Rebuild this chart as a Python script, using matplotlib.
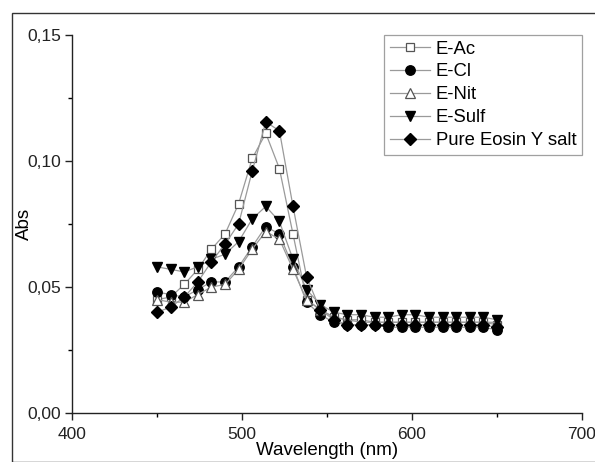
import matplotlib
matplotlib.use("Agg")
import matplotlib.pyplot as plt
from matplotlib.ticker import FuncFormatter, MultipleLocator
from matplotlib.patches import Rectangle

plt.rcParams['font.family'] = ['Liberation Sans', 'DejaVu Sans']

wavelength = [450, 458, 466, 474, 482, 490, 498, 506, 514, 522, 530, 538,
              546, 554, 562, 570, 578, 586, 594, 602, 610, 618, 626, 634, 642, 650]

e_ac = [0.045, 0.046, 0.051, 0.057, 0.065, 0.071, 0.083, 0.101, 0.111, 0.097, 0.071, 0.045,
        0.041, 0.038, 0.037, 0.037, 0.036, 0.036, 0.036, 0.036, 0.036, 0.036, 0.036, 0.036, 0.036, 0.035]
e_cl = [0.048, 0.047, 0.046, 0.049, 0.052, 0.052, 0.058, 0.066, 0.074, 0.071, 0.058, 0.044,
        0.039, 0.036, 0.035, 0.035, 0.035, 0.034, 0.034, 0.034, 0.034, 0.034, 0.034, 0.034, 0.034, 0.033]
e_nit = [0.045, 0.044, 0.044, 0.047, 0.050, 0.051, 0.057, 0.065, 0.072, 0.069, 0.057, 0.045,
         0.041, 0.038, 0.037, 0.036, 0.036, 0.036, 0.036, 0.036, 0.036, 0.036, 0.036, 0.036, 0.036, 0.036]
e_sulf = [0.058, 0.057, 0.056, 0.058, 0.061, 0.063, 0.068, 0.077, 0.082, 0.076, 0.061, 0.049,
          0.043, 0.040, 0.039, 0.039, 0.038, 0.038, 0.039, 0.039, 0.038, 0.038, 0.038, 0.038, 0.038, 0.037]
eosin = [0.040, 0.042, 0.046, 0.052, 0.060, 0.067, 0.075, 0.096, 0.1155, 0.112, 0.082, 0.054,
         0.041, 0.037, 0.035, 0.035, 0.035, 0.035, 0.035, 0.035, 0.035, 0.035, 0.035, 0.035, 0.035, 0.034]

labels = ["E-Ac", "E-Cl", "E-Nit", "E-Sulf", "Pure Eosin Y salt"]

fig = plt.figure(figsize=(5.95, 4.62), dpi=100)
# outer frame of the original picture
fig.patches.append(Rectangle((12/595, 0), 1.0, 1 - 13/462, transform=fig.transFigure,
                             fill=False, edgecolor='#333333', linewidth=1.0))
ax = fig.add_axes([72/595, 1 - 413/462, (582-72)/595, (413-35)/462])

line_kw = dict(color='#9a9a9a', linewidth=0.9)
ax.plot(wavelength, e_ac, marker='s', markersize=6.2, markerfacecolor='white',
        markeredgecolor='#555555', markeredgewidth=0.9, label=labels[0], **line_kw)
ax.plot(wavelength, e_cl, marker='o', markersize=6.8, markerfacecolor='black',
        markeredgecolor='black', label=labels[1], **line_kw)
ax.plot(wavelength, e_nit, marker='^', markersize=7.2, markerfacecolor='white',
        markeredgecolor='#555555', markeredgewidth=0.9, label=labels[2], **line_kw)
ax.plot(wavelength, e_sulf, marker='v', markersize=7.2, markerfacecolor='black',
        markeredgecolor='black', label=labels[3], **line_kw)
ax.plot(wavelength, eosin, marker='D', markersize=6.0, markerfacecolor='black',
        markeredgecolor='black', label=labels[4], **line_kw)

ax.set_xlim(400, 700)
ax.set_ylim(0, 0.15)
ax.xaxis.set_major_locator(MultipleLocator(100))
ax.xaxis.set_minor_locator(MultipleLocator(50))
ax.yaxis.set_major_locator(MultipleLocator(0.05))
ax.yaxis.set_minor_locator(MultipleLocator(0.025))
ax.yaxis.set_major_formatter(FuncFormatter(lambda v, p: f"{v:.2f}".replace('.', ',')))
ax.tick_params(which='major', direction='out', length=5, width=1, labelsize=12.5,
               colors='#222222')
ax.tick_params(axis='x', which='major', pad=5)
ax.tick_params(axis='y', which='major', pad=3)
ax.tick_params(which='minor', direction='out', length=3, width=1)
for s in ['top', 'right']:
    ax.spines[s].set_visible(False)
for s in ['left', 'bottom']:
    ax.spines[s].set_linewidth(1.0)
    ax.spines[s].set_color('#222222')

ax.set_xlabel("Wavelength (nm)", fontsize=13.5, labelpad=0)
ax.set_ylabel("Abs", fontsize=13.5)
ax.yaxis.set_label_coords(-0.076, 0.5)

leg = ax.legend(loc='upper right', bbox_to_anchor=(1.0, 1.0), fontsize=13.3, frameon=True,
                fancybox=False, edgecolor='#888888', handlelength=2.2, handletextpad=0.3,
                labelspacing=0.32, borderpad=0.3, borderaxespad=0.0)
leg.get_frame().set_linewidth(0.9)

fig.savefig("out.png", dpi=100)
